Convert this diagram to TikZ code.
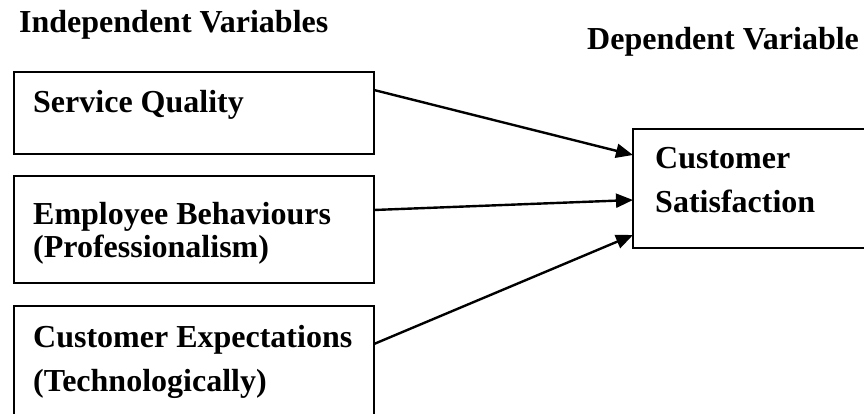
\documentclass[tikz,border=0pt]{standalone}
\usepackage{fontspec}
\setmainfont{Liberation Serif}
\usepackage{xcolor}
\usetikzlibrary{arrows.meta}

\tikzset{
  varbox/.style={draw, line width=2pt, inner sep=0pt, outer sep=0pt, anchor=north west},
  lbl/.style={anchor=base west, inner sep=0pt, align=left},
  link/.style={line width=2.4pt, -{Triangle[length=17pt,width=14pt]}}
}

\begin{document}
\begin{tikzpicture}[x=1pt,y=-1pt,
  every node/.append style={font=\bfseries\fontsize{32}{44}\selectfont}]
  \clip (0,0) rectangle (864,414);
  \fill[white] (0,0) rectangle (864,414);

  % headings
  \node[lbl] (indep) at (19,33) {Independent Variables};
  \node[lbl] (dep) at (587,50) {Dependent Variable};

  % boxes
  \node[varbox, minimum width=360pt, minimum height=82pt] (sq) at (14,72) {};
  \node[varbox, minimum width=360pt, minimum height=107pt] (eb) at (14,176) {};
  \node[varbox, minimum width=360pt, minimum height=130pt] (ce) at (14,306) {};
  \node[varbox, minimum width=260pt, minimum height=119pt] (cs) at (633,129) {};

  % box texts (base = last line)
  \node[lbl] (sqtext) at (33,113) {Service Quality};
  \node[lbl] (ebtext) at (33,257) {Employee Behaviours\\[-11pt](Professionalism)};
  \node[lbl] (cetext) at (33,391) {Customer Expectations\\(Technologically)};
  \node[lbl] (cstext) at (655,212) {Customer\\Satisfaction};

  % arrows
  \draw[link] ([yshift=-18pt]sq.north east) -- ([yshift=-26pt]cs.north west);
  \draw[link] ([yshift=-34pt]eb.north east) -- ([yshift=-71pt]cs.north west);
  \draw[link] ([yshift=-38pt]ce.north east) -- ([yshift=-106pt]cs.north west);
\end{tikzpicture}
\end{document}
